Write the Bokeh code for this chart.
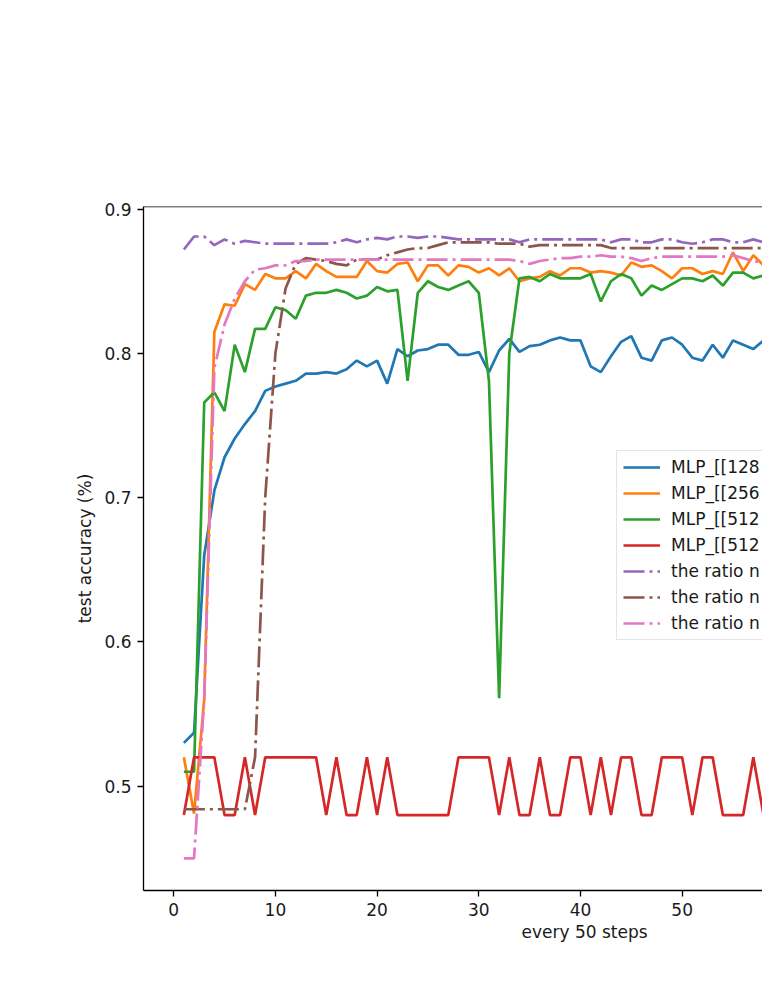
from bokeh.plotting import figure
from bokeh.models import Legend, LegendItem, Span, FixedTicker, Range1d, Title
from bokeh.embed import file_html
from bokeh.resources import INLINE

steps = list(range(1, 59))

mlp_128 = [0.530, 0.537, 0.660, 0.705, 0.728, 0.741, 0.751, 0.760, 0.774, 0.777,
           0.779, 0.781, 0.786, 0.786, 0.787, 0.786, 0.789, 0.795, 0.791, 0.795,
           0.779, 0.803, 0.798, 0.802, 0.803, 0.806, 0.806, 0.799, 0.799, 0.801,
           0.787, 0.802, 0.810, 0.801, 0.805, 0.806, 0.809, 0.811, 0.809, 0.809,
           0.791, 0.787, 0.798, 0.808, 0.812, 0.797, 0.795, 0.809, 0.811, 0.806,
           0.797, 0.795, 0.806, 0.797, 0.809, 0.806, 0.803, 0.809]

mlp_256 = [0.520, 0.481, 0.560, 0.815, 0.834, 0.833, 0.848, 0.844, 0.855, 0.852,
           0.852, 0.857, 0.852, 0.862, 0.857, 0.853, 0.853, 0.853, 0.864, 0.857,
           0.856, 0.862, 0.863, 0.850, 0.861, 0.861, 0.854, 0.861, 0.860, 0.856,
           0.859, 0.854, 0.859, 0.850, 0.852, 0.853, 0.857, 0.854, 0.859, 0.859,
           0.856, 0.857, 0.856, 0.854, 0.863, 0.860, 0.861, 0.857, 0.852, 0.859,
           0.859, 0.855, 0.857, 0.855, 0.870, 0.857, 0.868, 0.861]

mlp_512_a = [0.510, 0.510, 0.766, 0.773, 0.760, 0.806, 0.787, 0.817, 0.817, 0.832,
             0.830, 0.824, 0.840, 0.842, 0.842, 0.844, 0.842, 0.838, 0.840, 0.846,
             0.843, 0.844, 0.781, 0.842, 0.850, 0.846, 0.844, 0.847, 0.850, 0.842,
             0.781, 0.561, 0.800, 0.852, 0.853, 0.850, 0.855, 0.852, 0.852, 0.852,
             0.855, 0.836, 0.850, 0.855, 0.852, 0.840, 0.847, 0.844, 0.848, 0.852,
             0.852, 0.850, 0.854, 0.847, 0.856, 0.856, 0.852, 0.854]

mlp_512_b = [0.48, 0.52, 0.52, 0.52, 0.48, 0.48, 0.52, 0.48, 0.52, 0.52,
             0.52, 0.52, 0.52, 0.52, 0.48, 0.52, 0.48, 0.48, 0.52, 0.48,
             0.52, 0.48, 0.48, 0.48, 0.48, 0.48, 0.48, 0.52, 0.52, 0.52,
             0.52, 0.48, 0.52, 0.48, 0.48, 0.52, 0.48, 0.48, 0.52, 0.52,
             0.48, 0.52, 0.48, 0.52, 0.52, 0.48, 0.48, 0.52, 0.52, 0.52,
             0.48, 0.52, 0.52, 0.48, 0.48, 0.48, 0.52, 0.48]

ratio_1 = [0.872, 0.881, 0.881, 0.875, 0.879, 0.876, 0.878, 0.877, 0.876, 0.876,
           0.876, 0.876, 0.876, 0.876, 0.876, 0.877, 0.879, 0.877, 0.879, 0.880,
           0.879, 0.881, 0.881, 0.880, 0.881, 0.881, 0.880, 0.879, 0.879, 0.879,
           0.879, 0.879, 0.879, 0.877, 0.879, 0.879, 0.879, 0.879, 0.879, 0.879,
           0.879, 0.879, 0.877, 0.879, 0.879, 0.877, 0.877, 0.879, 0.879, 0.877,
           0.876, 0.877, 0.879, 0.879, 0.877, 0.877, 0.879, 0.877]

ratio_2 = [0.484, 0.484, 0.484, 0.484, 0.484, 0.484, 0.484, 0.520, 0.700, 0.800,
           0.845, 0.862, 0.866, 0.865, 0.864, 0.862, 0.861, 0.865, 0.865, 0.865,
           0.868, 0.870, 0.872, 0.873, 0.873, 0.875, 0.877, 0.877, 0.877, 0.877,
           0.877, 0.876, 0.876, 0.876, 0.874, 0.875, 0.875, 0.875, 0.875, 0.875,
           0.875, 0.875, 0.873, 0.873, 0.873, 0.873, 0.873, 0.873, 0.873, 0.873,
           0.873, 0.873, 0.873, 0.873, 0.873, 0.873, 0.873, 0.873]

ratio_3 = [0.450, 0.450, 0.560, 0.790, 0.820, 0.838, 0.850, 0.858, 0.859, 0.861,
           0.861, 0.864, 0.864, 0.865, 0.865, 0.865, 0.865, 0.865, 0.865, 0.865,
           0.865, 0.865, 0.865, 0.865, 0.865, 0.865, 0.865, 0.865, 0.865, 0.865,
           0.865, 0.865, 0.865, 0.864, 0.862, 0.864, 0.865, 0.866, 0.866, 0.867,
           0.867, 0.868, 0.867, 0.867, 0.866, 0.864, 0.866, 0.867, 0.867, 0.867,
           0.867, 0.867, 0.867, 0.867, 0.868, 0.866, 0.864, 0.863]

labels = ["MLP_[[128", "MLP_[[256", "MLP_[[512", "MLP_[[512",
          "the ratio n", "the ratio n", "the ratio n"]
series = [mlp_128, mlp_256, mlp_512_a, mlp_512_b, ratio_1, ratio_2, ratio_3]
colors = ["#1f77b4", "#ff7f0e", "#2ca02c", "#d62728", "#9467bd", "#8c564b", "#e377c2"]
dashes = ["solid", "solid", "solid", "solid", "21 5 3 5", "21 5 3 5", "21 5 3 5"]

x_ticks = [0, 10, 20, 30, 40, 50, 60]
y_ticks = [0.5, 0.6, 0.7, 0.8, 0.9]
x_title = "every 50 steps"
y_title = "test accuracy (%)"

FONT = "DejaVu Sans"
FS = "17px"

y_lo, y_hi = 0.4277, 0.9018
p = figure(width=762, height=985, frame_width=619, frame_height=684,
           min_border_left=143, min_border_right=0, min_border_top=206,
           min_border_bottom=95, title=None,
           x_range=Range1d(-2.97, 57.9), y_range=Range1d(y_lo, y_hi),
           output_backend="svg", toolbar_location=None)
p.outline_line_color = None
p.grid.visible = False
p.background_fill_color = "white"
p.border_fill_color = "white"

for ax in (p.xaxis[0], p.yaxis[0]):
    ax.axis_line_color = "black"
    ax.axis_line_width = 1.3
    ax.major_tick_line_color = "black"
    ax.major_tick_line_width = 1.3
    ax.major_tick_in = 0
    ax.major_tick_out = 6
    ax.minor_tick_line_color = None
    ax.major_label_text_font = FONT
    ax.major_label_text_font_size = FS
    ax.major_label_text_color = "#1a1a1a"
    ax.major_label_standoff = 6
    ax.axis_label_text_font = FONT
    ax.axis_label_text_font_size = FS
    ax.axis_label_text_font_style = "normal"
    ax.axis_label_text_color = "#1a1a1a"

p.xaxis.ticker = FixedTicker(ticks=x_ticks)
p.yaxis.ticker = FixedTicker(ticks=y_ticks)
p.yaxis.axis_label = y_title
p.yaxis.axis_label_standoff = 6

# x title is centred on the full (wider, cropped) axes of the original chart
xt = Title(text=x_title, align="left", offset=378, standoff=2,
           text_font=FONT, text_font_size=FS, text_font_style="normal",
           text_color="#1a1a1a")
p.add_layout(xt, "below")

p.add_layout(Span(location=y_hi, dimension="width", line_color="black", line_width=1.3))

items = []
for lab, ys, c, d in zip(labels, series, colors, dashes):
    r = p.line(steps, ys, line_color=c, line_width=2.7, line_dash=d)
    items.append(LegendItem(label=lab, renderers=[r]))

legend = Legend(items=items, location=(473, 250))
legend.label_text_font = FONT
legend.label_text_font_size = FS
legend.label_text_color = "#1a1a1a"
legend.glyph_width = 37
legend.glyph_height = 20
legend.label_height = 20
legend.spacing = 6
legend.padding = 6
legend.margin = 0
legend.label_standoff = 11
legend.border_line_color = "#cccccc"
legend.border_line_width = 1
legend.background_fill_alpha = 0.8
p.add_layout(legend)

open("out.html", "w").write(file_html(p, INLINE))
